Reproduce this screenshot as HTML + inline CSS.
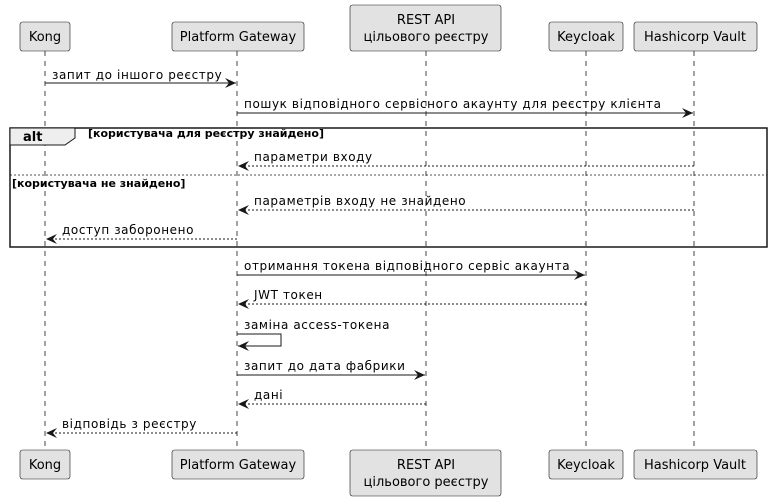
<!DOCTYPE html>
<html><head><meta charset="utf-8"><style>
html,body{margin:0;padding:0;background:#fff;}
svg{display:block;}
text{font-family:"DejaVu Sans","Liberation Sans",sans-serif;fill:#000;}
</style></head><body>
<svg width="771" height="502" viewBox="0 0 771 502" xmlns="http://www.w3.org/2000/svg">
<defs>
<marker id="ah" markerWidth="12" markerHeight="10" refX="11" refY="5" orient="auto" markerUnits="userSpaceOnUse">
<path d="M0,0 L11,5 L0,10 L4,5 Z" fill="#181818"/>
</marker>
</defs>
<g stroke="#181818" stroke-width="0.8" stroke-dasharray="5,5">
<line x1="45" y1="51" x2="45" y2="450"/>
<line x1="237" y1="51" x2="237" y2="450"/>
<line x1="426" y1="51" x2="426" y2="450"/>
<line x1="586" y1="51" x2="586" y2="450"/>
<line x1="694" y1="51" x2="694" y2="450"/>
</g>
<g fill="#E2E2E2" stroke="#181818" stroke-width="0.6">
<rect x="20" y="22" width="50" height="29" rx="2.5"/>
<rect x="172" y="22" width="132" height="29" rx="2.5"/>
<rect x="350" y="5" width="151" height="46" rx="2.5"/>
<rect x="549" y="22" width="74" height="29" rx="2.5"/>
<rect x="634" y="22" width="123" height="29" rx="2.5"/>
<rect x="20" y="450" width="50" height="29" rx="2.5"/>
<rect x="172" y="450" width="132" height="29" rx="2.5"/>
<rect x="350" y="450" width="151" height="46" rx="2.5"/>
<rect x="549" y="450" width="74" height="29" rx="2.5"/>
<rect x="634" y="450" width="123" height="29" rx="2.5"/>
</g>
<g font-size="13" text-anchor="middle">
<text x="45" y="41">Kong</text>
<text x="238" y="41">Platform Gateway</text>
<text x="426" y="24">REST API</text>
<text x="426" y="41">цільового реєстру</text>
<text x="586" y="41">Keycloak</text>
<text x="695" y="41">Hashicorp Vault</text>
<text x="45" y="469">Kong</text>
<text x="238" y="469">Platform Gateway</text>
<text x="426" y="469">REST API</text>
<text x="426" y="486">цільового реєстру</text>
<text x="586" y="469">Keycloak</text>
<text x="695" y="469">Hashicorp Vault</text>
</g>
<!-- alt -->
<rect x="10" y="128" width="757" height="119" fill="none" stroke="#181818" stroke-width="1.5"/>
<path d="M10,128 L75,128 L75,138 L65,145 L10,145 Z" fill="#EEEEEE" stroke="#181818" stroke-width="1"/>
<text x="23" y="141" font-size="13" font-weight="bold">alt</text>
<text x="88" y="137" font-size="11" font-weight="bold">[користувача для реєстру знайдено]</text>
<line x1="10" y1="175" x2="767" y2="175" stroke="#181818" stroke-width="0.8" stroke-dasharray="2,2"/>
<text x="12" y="187" font-size="11" font-weight="bold">[користувача не знайдено]</text>
<g stroke="#181818" stroke-width="1" fill="none" marker-end="url(#ah)">
<line x1="45" y1="83" x2="236" y2="83"/>
<line x1="237" y1="113" x2="693" y2="113"/>
<line x1="694" y1="166" x2="238" y2="166" stroke-dasharray="2,2"/>
<line x1="694" y1="210" x2="238" y2="210" stroke-dasharray="2,2"/>
<line x1="237" y1="239" x2="46" y2="239" stroke-dasharray="2,2"/>
<line x1="237" y1="275" x2="585" y2="275"/>
<line x1="586" y1="304" x2="238" y2="304" stroke-dasharray="2,2"/>
<polyline points="237,334 281,334 281,346 238,346"/>
<line x1="237" y1="375" x2="425" y2="375"/>
<line x1="426" y1="404" x2="238" y2="404" stroke-dasharray="2,2"/>
<line x1="237" y1="433" x2="46" y2="433" stroke-dasharray="2,2"/>
</g>
<g font-size="12" letter-spacing="0.6">
<text x="52" y="79">запит до іншого реєстру</text>
<text x="244" y="108">пошук відповідного сервісного акаунту для реєстру клієнта</text>
<text x="254" y="161">параметри входу</text>
<text x="254" y="205">параметрів входу не знайдено</text>
<text x="62" y="234">доступ заборонено</text>
<text x="244" y="270">отримання токена відповідного сервіс акаунта</text>
<text x="254" y="299">JWT токен</text>
<text x="244" y="329">заміна access-токена</text>
<text x="244" y="370">запит до дата фабрики</text>
<text x="254" y="399">дані</text>
<text x="62" y="428">відповідь з реєстру</text>
</g>
</svg>
</body></html>
